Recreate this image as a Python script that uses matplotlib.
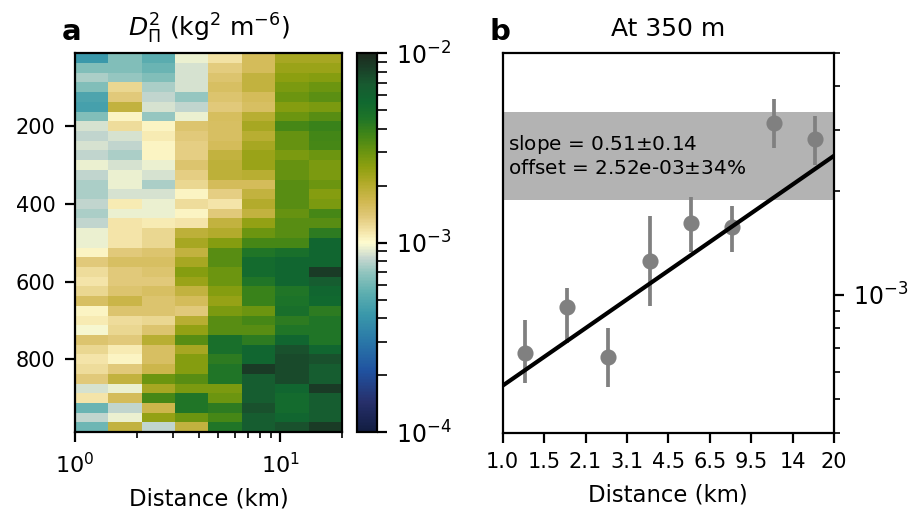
import numpy as np
import matplotlib
matplotlib.use('Agg')
import matplotlib.pyplot as plt
from matplotlib.colors import LinearSegmentedColormap, LogNorm
from matplotlib.ticker import FixedLocator, FixedFormatter, NullLocator

# distance bins (km) and depth rows (m)
dist_edges = np.logspace(0, np.log10(20), 9)
dist_labels = ['1.0', '1.5', '2.1', '3.1', '4.5', '6.5', '9.5', '14', '20']
depths = np.arange(25, 1000, 25)

# log10 of D^2 (kg^2 m^-6), one row per depth, one column per distance bin
logD = np.array([
    [-3.38, -3.19, -3.28, -3.03, -2.93, -2.80, -2.66, -2.66],
    [-3.19, -3.19, -3.24, -3.06, -2.87, -2.80, -2.63, -2.63],
    [-3.12, -3.15, -3.19, -3.06, -2.84, -2.74, -2.60, -2.58],
    [-3.19, -2.90, -3.12, -3.06, -2.82, -2.74, -2.56, -2.53],
    [-3.32, -2.86, -3.09, -3.15, -2.84, -2.80, -2.53, -2.49],
    [-3.34, -2.74, -3.06, -3.09, -2.86, -2.82, -2.58, -2.56],
    [-3.19, -2.98, -3.15, -3.03, -2.81, -2.71, -2.53, -2.48],
    [-3.06, -2.92, -2.98, -2.84, -2.82, -2.66, -2.44, -2.41],
    [-3.09, -3.06, -2.96, -2.86, -2.82, -2.71, -2.51, -2.43],
    [-3.06, -3.09, -2.98, -2.88, -2.80, -2.66, -2.51, -2.44],
    [-3.09, -3.12, -2.98, -2.88, -2.74, -2.63, -2.56, -2.53],
    [-3.03, -3.06, -3.03, -2.84, -2.72, -2.63, -2.51, -2.56],
    [-3.09, -3.03, -3.06, -2.88, -2.72, -2.71, -2.51, -2.56],
    [-3.12, -3.03, -3.12, -2.90, -2.80, -2.80, -2.48, -2.53],
    [-3.12, -3.06, -3.06, -2.98, -2.88, -2.74, -2.48, -2.58],
    [-3.09, -2.96, -3.03, -2.92, -2.94, -2.69, -2.48, -2.56],
    [-3.12, -3.03, -3.03, -2.98, -2.86, -2.74, -2.51, -2.44],
    [-3.09, -2.94, -2.96, -2.94, -2.74, -2.61, -2.48, -2.48],
    [-3.03, -2.94, -2.90, -2.72, -2.69, -2.53, -2.48, -2.38],
    [-3.03, -2.94, -2.90, -2.66, -2.58, -2.44, -2.44, -2.24],
    [-2.98, -2.86, -2.84, -2.74, -2.48, -2.35, -2.31, -2.24],
    [-2.86, -2.82, -2.82, -2.66, -2.48, -2.28, -2.24, -2.24],
    [-2.92, -2.86, -2.84, -2.58, -2.53, -2.28, -2.24, -2.07],
    [-2.94, -2.86, -2.86, -2.63, -2.53, -2.35, -2.24, -2.18],
    [-2.90, -2.84, -2.82, -2.74, -2.58, -2.41, -2.35, -2.24],
    [-2.82, -2.76, -2.84, -2.80, -2.62, -2.41, -2.33, -2.26],
    [-2.98, -2.84, -2.84, -2.86, -2.56, -2.53, -2.31, -2.38],
    [-2.96, -2.92, -2.90, -2.71, -2.48, -2.44, -2.38, -2.35],
    [-3.01, -2.90, -2.84, -2.61, -2.48, -2.48, -2.35, -2.35],
    [-2.84, -2.86, -2.71, -2.48, -2.31, -2.38, -2.24, -2.35],
    [-2.90, -2.96, -2.82, -2.66, -2.31, -2.24, -2.14, -2.24],
    [-2.94, -2.98, -2.82, -2.58, -2.38, -2.24, -2.11, -2.14],
    [-2.92, -2.86, -2.77, -2.58, -2.35, -2.07, -2.11, -2.18],
    [-2.86, -2.74, -2.53, -2.48, -2.35, -2.18, -2.11, -2.18],
    [-3.06, -3.03, -2.66, -2.56, -2.56, -2.18, -2.24, -2.07],
    [-2.94, -2.80, -2.44, -2.35, -2.53, -2.18, -2.28, -2.18],
    [-3.24, -3.09, -2.77, -2.35, -2.38, -2.14, -2.28, -2.18],
    [-3.09, -3.03, -2.61, -2.53, -2.44, -2.18, -2.24, -2.18],
    [-3.23, -2.74, -3.09, -2.74, -2.35, -2.18, -2.14, -2.07],
])

# panel b: structure function at 350 m
dist_mid = [1.227, 1.784, 2.594, 3.772, 5.485, 7.975, 11.60, 16.86]
d350 = [6.78e-4, 9.2e-4, 6.6e-4, 1.25e-3, 1.61e-3, 1.57e-3, 3.13e-3, 2.81e-3]
d350_hi = [8.46e-4, 1.044e-3, 8.0e-4, 1.69e-3, 1.92e-3, 1.80e-3, 3.67e-3, 3.28e-3]
d350_lo = [5.56e-4, 7.25e-4, 5.43e-4, 9.29e-4, 1.33e-3, 1.33e-3, 2.66e-3, 2.37e-3]
slope, slope_err = 0.51, 0.14
offset, offset_err = 2.52e-03, 0.34

# approximation of cmocean 'delta'
delta_pts = [
    (0.00, '#121d41'), (0.08, '#27306c'), (0.16, '#2052a0'), (0.24, '#2a78a8'),
    (0.31, '#3a98aa'), (0.37, '#60b0b0'), (0.42, '#90c4be'), (0.46, '#c8d8d0'),
    (0.50, '#fefcd0'), (0.53, '#f4e4a8'), (0.57, '#e0c878'), (0.61, '#d0b850'),
    (0.66, '#b0aa28'), (0.70, '#8ea010'), (0.74, '#6a9410'), (0.79, '#3e8418'),
    (0.83, '#1e7428'), (0.875, '#106830'), (0.92, '#185a30'), (0.96, '#1a4028'),
    (1.00, '#1c2a1e'),
]
cmap = LinearSegmentedColormap.from_list('delta', delta_pts)

plt.rcParams['font.size'] = 7.5
plt.rcParams['axes.labelsize'] = 8.2
plt.rcParams['axes.titlesize'] = 9
fig = plt.figure(figsize=(4.56, 2.56), dpi=200)

# ---- panel a
ax1 = fig.add_axes([0.0822, 0.156, 0.2928, 0.740])
depth_edges = np.concatenate([[depths[0] - 12.5], depths + 12.5])
pc = ax1.pcolormesh(dist_edges, depth_edges, 10 ** logD, cmap=cmap,
                    norm=LogNorm(vmin=1e-4, vmax=1e-2))
ax1.set_xscale('log')
ax1.set_xlim(1, 20)
ax1.set_ylim(depth_edges[-1], depth_edges[0])
ax1.set_yticks([200, 400, 600, 800])
ax1.tick_params(axis='x', labelsize=8)
ax1.set_xlabel('Distance (km)')
ax1.set_title(r'$D_\Pi^2$ (kg$^2$ m$^{-6}$)')
fig.text(0.068, 0.922, 'a', fontsize=10.5, fontweight='bold')

cax = fig.add_axes([0.3914, 0.156, 0.0219, 0.740])
fig.colorbar(pc, cax=cax)
cax.tick_params(which='minor', length=3.5)
cax.tick_params(labelsize=8.5)

# ---- panel b
ax2 = fig.add_axes([0.5512, 0.1549, 0.3633, 0.7422])
ax2.axhspan(offset / (1 + offset_err), offset * (1 + offset_err), color='0.7', lw=0, zorder=0)
yerr = [np.array(d350) - np.array(d350_lo), np.array(d350_hi) - np.array(d350)]
ax2.errorbar(dist_mid, d350, yerr=yerr, fmt='o', color='0.5', ms=4.8, elinewidth=1.35,
             capsize=0, zorder=2)
xx = np.array([1, 20])
ax2.plot(xx, offset * (xx / 20) ** slope, color='k', lw=1.5, zorder=3)
ax2.text(1.05, offset, 'slope = %.2f$\\pm$%.2f\noffset = %.2e$\\pm$%d%%'
         % (slope, slope_err, offset, round(offset_err * 100)),
         va='center', ha='left', fontsize=7.2)
ax2.set_xscale('log')
ax2.set_yscale('log')
ax2.set_xlim(1, 20)
ax2.set_ylim(4e-4, 5e-3)
ax2.xaxis.set_major_locator(FixedLocator(dist_edges))
ax2.xaxis.set_major_formatter(FixedFormatter(dist_labels))
ax2.xaxis.set_minor_locator(NullLocator())
ax2.yaxis.tick_right()
ax2.tick_params(axis='y', labelsize=8.5)
ax2.set_xlabel('Distance (km)')
ax2.set_title('At 350 m')
fig.text(0.537, 0.922, 'b', fontsize=10.5, fontweight='bold')

fig.savefig('out.png', dpi=200)
